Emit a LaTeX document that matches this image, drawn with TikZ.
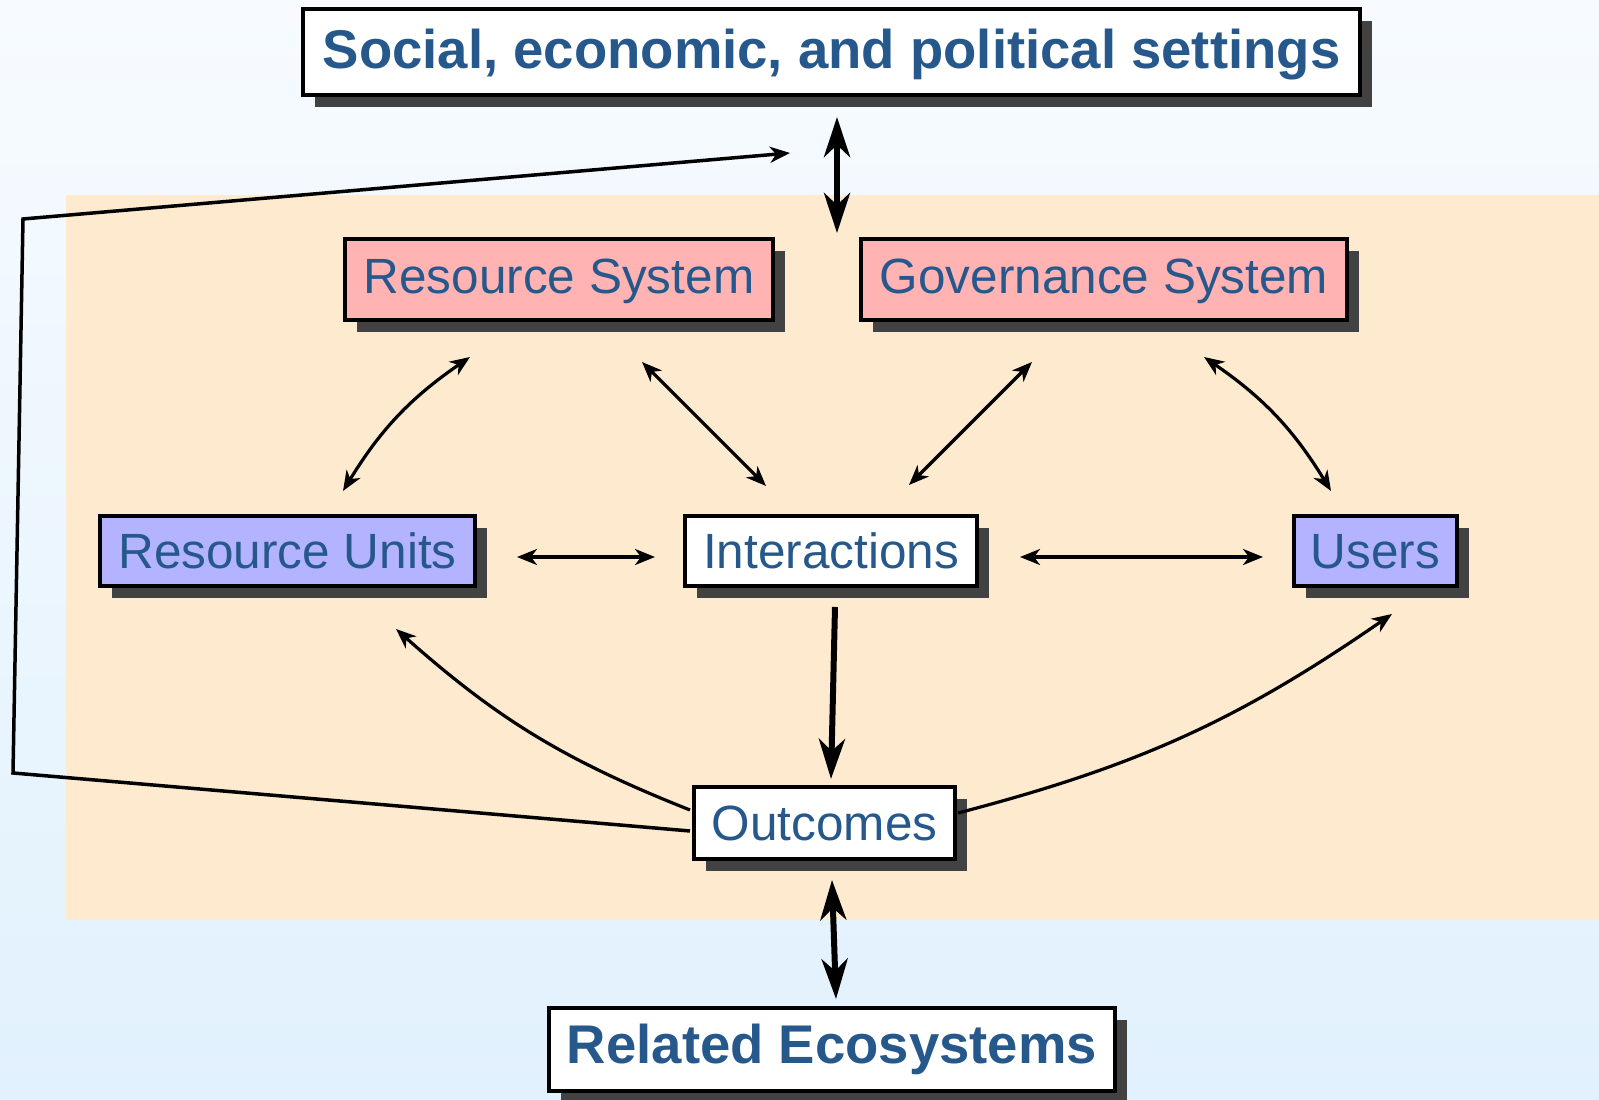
\documentclass[tikz,border=0pt]{standalone}
\usepackage{fontspec}
\setmainfont{Liberation Sans}
\usetikzlibrary{arrows.meta,shadows}
\definecolor{bgtop}{RGB}{247,251,255}
\definecolor{bgbot}{RGB}{225,241,253}
\definecolor{tanbg}{RGB}{254,235,207}
\definecolor{pinkbox}{RGB}{255,179,179}
\definecolor{bluebox}{RGB}{179,179,255}
\definecolor{txtblue}{RGB}{38,88,140}
\definecolor{shadowgray}{RGB}{66,66,66}
\tikzset{
  boxbase/.style={draw=black, line width=4pt, inner sep=0pt, text=txtblue,
    general shadow={fill=shadowgray, shadow xshift=12pt, shadow yshift=-12pt}},
  bigbox/.style={boxbase, fill=white, font=\fontsize{54.5}{60}\selectfont\bfseries},
  sysbox/.style={boxbase, fill=pinkbox, font=\fontsize{49.5}{55}\selectfont,
    text height=35.6pt, text depth=8.4pt},
  unitbox/.style={boxbase, font=\fontsize{49.5}{55}\selectfont,
    text height=35.6pt, text depth=0pt},
  thin/.style={line width=3.2pt, draw=black},
  thinarrow/.style={thin, {Stealth[length=20pt,width=16pt,inset=6pt]}-{Stealth[length=20pt,width=16pt,inset=6pt]}},
  thinone/.style={thin, -{Stealth[length=20pt,width=16pt,inset=6pt]}},
  thickarrow/.style={line width=6pt, {Stealth[length=40pt,width=26pt,inset=12pt]}-{Stealth[length=40pt,width=26pt,inset=12pt]}},
  thickone/.style={line width=6pt, -{Stealth[length=40pt,width=26pt,inset=12pt]}},
}
\begin{document}
\begin{tikzpicture}[x=1pt,y=1pt]
\useasboundingbox (0,0) rectangle (1599,1100);
\shade[top color=bgtop, bottom color=bgbot] (0,0) rectangle (1599,1100);
\fill[tanbg] (66,180) rectangle (1599,905);

% nodes
\node[bigbox, minimum width=1057pt, minimum height=86pt, text height=39.2pt, text depth=7.1pt] (top) at (831.5,1048) {Social, economic, and political settings};
\node[sysbox, minimum width=428pt, minimum height=81pt] (rs) at (559,820.5) {Resource System};
\node[sysbox, minimum width=486pt, minimum height=81pt] (gs) at (1104,820.5) {Governance System};
\node[unitbox, fill=bluebox, minimum width=375pt, minimum height=70pt] (ru) at (287.5,549) {Resource Units};
\node[unitbox, fill=white, minimum width=292pt, minimum height=70pt] (int) at (831,549) {Interactions};
\node[unitbox, fill=bluebox, minimum width=163pt, minimum height=70pt] (us) at (1375.5,549) {Users};
\node[unitbox, fill=white, minimum width=261pt, minimum height=72pt] (out) at (824.5,277) {Outcomes};
\node[bigbox, minimum width=566pt, minimum height=83pt, text height=39.2pt, text depth=12pt] (re) at (832,50.5) {Related Ecosystems};

% connector end points
\coordinate (topS) at (837,983);
\coordinate (tanN) at (837,867);
\coordinate (ruN) at (343,609);
\coordinate (rsSW) at (470,743);
\coordinate (rsSE) at (642,738);
\coordinate (intNW) at (766,614);
\coordinate (gsSW) at (1032,738);
\coordinate (intNE) at (909,615);
\coordinate (gsSE) at (1204,743);
\coordinate (usN) at (1331,609);
\coordinate (ruE) at (517,543);
\coordinate (intW) at (655,543);
\coordinate (intE) at (1020,543);
\coordinate (usW) at (1263,543);
\coordinate (intS) at (835,493);
\coordinate (outN) at (831,321);
\coordinate (outW) at (690,290);
\coordinate (ruS) at (396,471);
\coordinate (outE) at (958,287);
\coordinate (usS) at (1392,486);
\coordinate (outWlow) at (690,269);
\coordinate (fbA) at (13,327);
\coordinate (fbB) at (23,881);
\coordinate (fbEnd) at (790,947);
\coordinate (outS) at (832,220);
\coordinate (reN) at (836,101);

% connectors
\draw[thickarrow] (topS) -- (tanN);
\draw[thinarrow] (ruN) to[bend left=12] (rsSW);
\draw[thinarrow] (rsSE) -- (intNW);
\draw[thinarrow] (gsSW) -- (intNE);
\draw[thinarrow] (usN) to[bend right=12] (gsSE);
\draw[thinarrow] (ruE) -- (intW);
\draw[thinarrow] (intE) -- (usW);
\draw[thickone] (intS) -- (outN);
\draw[thinone] (outW) to[bend left=10] (ruS);
\draw[thinone] (outE) to[bend right=10] (usS);
\draw[thinone, line width=3.5pt, line join=miter] (outWlow) -- (fbA) -- (fbB) -- (fbEnd);
\draw[thickarrow] (outS) -- (reN);
\end{tikzpicture}
\end{document}
